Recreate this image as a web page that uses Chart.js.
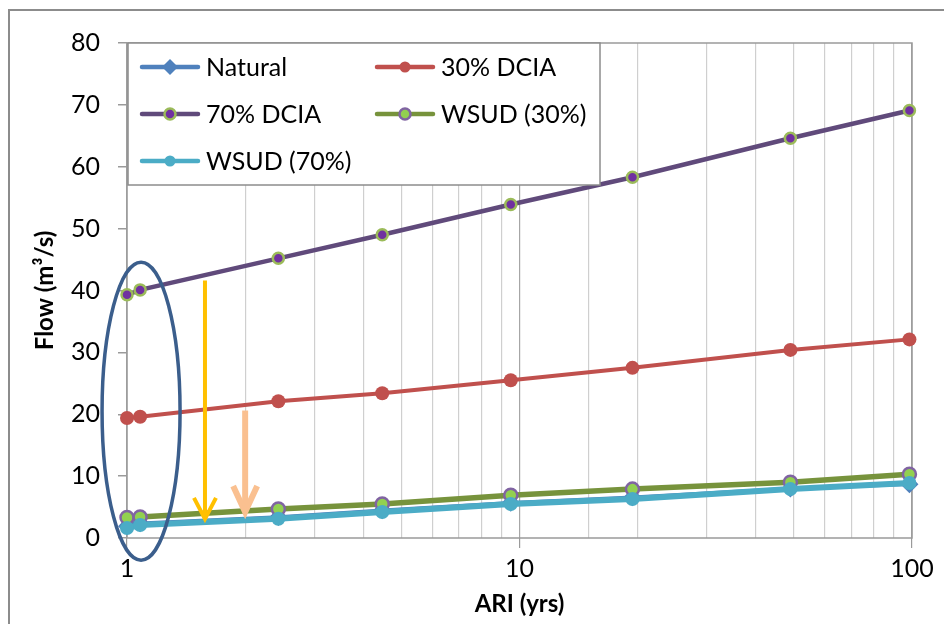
<!DOCTYPE html>
<html>
<head>
<meta charset="utf-8">
<script src="https://cdn.jsdelivr.net/npm/chart.js@4/dist/chart.umd.min.js"></script>
<style>
  body { margin: 0; background: #fff; }
  #wrap { width: 944px; height: 624px; position: relative; }
</style>
</head>
<body>
<div id="wrap"><canvas id="myChart"></canvas></div>
<script>
// ARI (yrs) of each event
const ari = [1.0, 1.08, 2.43, 4.47, 9.5, 19.4, 49, 98.5];

// flows (m3/s)
const natural = [1.9, 2.4, 3.4, 4.5, 5.7, 6.6, 8.0, 8.7];
const dcia30 = [19.4, 19.6, 22.1, 23.4, 25.5, 27.5, 30.4, 32.1];
const dcia70 = [39.3, 40.1, 45.2, 49.0, 53.9, 58.3, 64.6, 69.1];
const wsud30 = [3.3, 3.4, 4.7, 5.5, 6.9, 7.9, 9.0, 10.3];
const wsud70 = [1.6, 2.1, 3.1, 4.2, 5.5, 6.3, 7.9, 8.9];

const xLabels = [1, 10, 100];
const yTicks = { min: 0, max: 80, step: 10 };

// annotations, in data units
const arrows = [
    { x: 1.58, from: 41.6, to: 3.1, color: '#FFC000', width: 4, head: [11, 21] },
    { x: 2.0, from: 20.6, to: 4.2, color: '#FAC090', width: 6, head: [12, 26] }
];
const ring = { x: 1.086, y: 20.5 };

const FONT = 'Lato, "Open Sans", sans-serif';

function pts(ys) {
    return ari.map((x, i) => ({ x: x, y: ys[i] }));
}

const frame = {
    id: 'frame',
    beforeDraw(chart) {
        const ctx = chart.ctx;
        ctx.save();
        ctx.fillStyle = '#fff';
        ctx.fillRect(0, 0, chart.width, chart.height);
        ctx.strokeStyle = '#8c8c8c';
        ctx.lineWidth = 2;
        ctx.strokeRect(9, 10, chart.width + 20, chart.height + 20);
        ctx.restore();
    },
    beforeDatasetsDraw(chart) {
        const a = chart.chartArea, ctx = chart.ctx;
        ctx.save();
        ctx.strokeStyle = '#9a9a9a';
        ctx.lineWidth = 1.5;
        ctx.strokeRect(a.left, a.top, a.right - a.left, a.bottom - a.top);
        ctx.restore();
    }
};

function marker(ctx, ds, x, y, r) {
    ctx.fillStyle = ds.pointBackgroundColor;
    ctx.strokeStyle = ds.pointBorderColor;
    ctx.lineWidth = ds.pointBorderWidth;
    ctx.beginPath();
    if (ds.pointStyle === 'rectRot') {
        ctx.moveTo(x, y - r); ctx.lineTo(x + r, y); ctx.lineTo(x, y + r); ctx.lineTo(x - r, y);
        ctx.closePath();
    } else {
        ctx.arc(x, y, r, 0, Math.PI * 2);
    }
    ctx.fill();
    if (ds.pointBorderWidth) ctx.stroke();
}

const boxLegend = {
    id: 'boxLegend',
    afterDatasetsDraw(chart) {
        const ctx = chart.ctx, a = chart.chartArea;
        const left = a.left + 1, top = a.top, w = 472, h = 142;
        ctx.save();
        ctx.fillStyle = '#fff';
        ctx.fillRect(left, top, w, h);
        ctx.strokeStyle = '#8c8c8c';
        ctx.lineWidth = 1.5;
        ctx.strokeRect(left, top, w, h);
        const cols = [left + 14, left + 249];
        const rows = [top + 24, top + 71, top + 118];
        ctx.font = '25px ' + FONT;
        ctx.textBaseline = 'middle';
        chart.data.datasets.forEach((ds, i) => {
            const x = cols[i % 2], y = rows[Math.floor(i / 2)];
            ctx.strokeStyle = ds.borderColor;
            ctx.lineWidth = 4.5;
            ctx.lineCap = 'round';
            ctx.beginPath();
            ctx.moveTo(x, y); ctx.lineTo(x + 56, y);
            ctx.stroke();
            marker(ctx, ds, x + 28, y, ds.pointStyle === 'rectRot' ? 8 : 5.5);
            ctx.fillStyle = '#000';
            ctx.fillText(ds.label, x + 64, y + 1);
        });
        ctx.restore();
    }
};

const notes = {
    id: 'notes',
    afterDraw(chart) {
        const ctx = chart.ctx, xs = chart.scales.x, ys = chart.scales.y;
        ctx.save();
        ctx.lineCap = 'butt';
        arrows.forEach(ar => {
            const x = xs.getPixelForValue(ar.x);
            const y0 = ys.getPixelForValue(ar.from), y1 = ys.getPixelForValue(ar.to);
            ctx.strokeStyle = ar.color;
            ctx.lineWidth = ar.width;
            ctx.beginPath();
            ctx.moveTo(x, y0); ctx.lineTo(x, y1);
            ctx.stroke();
            ctx.lineJoin = 'miter';
            ctx.beginPath();
            ctx.moveTo(x - ar.head[0], y1 - ar.head[1]); ctx.lineTo(x, y1); ctx.lineTo(x + ar.head[0], y1 - ar.head[1]);
            ctx.stroke();
        });
        ctx.strokeStyle = '#3b5e8c';
        ctx.lineWidth = 3.5;
        ctx.beginPath();
        ctx.ellipse(xs.getPixelForValue(ring.x), ys.getPixelForValue(ring.y), 39, 149, 0, 0, Math.PI * 2);
        ctx.stroke();
        ctx.restore();
    }
};

const ctx = document.getElementById('myChart').getContext('2d');
new Chart(ctx, {
    type: 'line',
    data: {
        datasets: [{
            label: 'Natural',
            data: pts(natural),
            borderColor: '#4F81BD',
            borderWidth: 3.5,
            pointStyle: 'rectRot',
            pointRadius: 9,
            pointBackgroundColor: '#4F81BD',
            pointBorderColor: '#4F81BD',
            pointBorderWidth: 0,
            order: 5
        }, {
            label: '30% DCIA',
            data: pts(dcia30),
            borderColor: '#C0504D',
            borderWidth: 4,
            pointStyle: 'circle',
            pointRadius: 7,
            pointBackgroundColor: '#C0504D',
            pointBorderColor: '#C0504D',
            pointBorderWidth: 0,
            order: 4
        }, {
            label: '70% DCIA',
            data: pts(dcia70),
            borderColor: '#604A7B',
            borderWidth: 4.5,
            pointStyle: 'circle',
            pointRadius: 5.5,
            pointBackgroundColor: '#7030A0',
            pointBorderColor: '#9BBB59',
            pointBorderWidth: 2.5,
            order: 3
        }, {
            label: 'WSUD (30%)',
            data: pts(wsud30),
            borderColor: '#77933C',
            borderWidth: 5.5,
            pointStyle: 'circle',
            pointRadius: 6.5,
            pointBackgroundColor: '#92D050',
            pointBorderColor: '#8064A2',
            pointBorderWidth: 2.5,
            order: 2
        }, {
            label: 'WSUD (70%)',
            data: pts(wsud70),
            borderColor: '#4BACC6',
            borderWidth: 6,
            pointStyle: 'circle',
            pointRadius: 7,
            pointBackgroundColor: '#4BACC6',
            pointBorderColor: '#4BACC6',
            pointBorderWidth: 0,
            order: 1
        }]
    },
    options: {
        responsive: true,
        maintainAspectRatio: false,
        animation: false,
        clip: false,
        layout: { padding: { left: 0, right: 32, top: 43, bottom: 0 } },
        plugins: {
            legend: { display: false },
            tooltip: { enabled: false }
        },
        elements: { line: { tension: 0 } },
        scales: {
            x: {
                type: 'logarithmic',
                min: 1,
                max: 100,
                afterFit: s => { s.height = 86; },
                border: { display: false },
                grid: {
                    color: c => xLabels.includes(Math.round(c.tick.value)) ? '#a6a6a6' : '#cfcfcf',
                    tickColor: c => xLabels.includes(Math.round(c.tick.value)) ? '#9a9a9a' : 'rgba(0,0,0,0)',
                    tickLength: 10,
                    lineWidth: 1.2
                },
                ticks: {
                    autoSkip: false,
                    maxRotation: 0,
                    color: '#000',
                    padding: 6,
                    font: { family: FONT, size: 25 },
                    callback: v => xLabels.includes(Math.round(v)) && Math.abs(v - Math.round(v)) < 1e-6 ? String(Math.round(v)) : ''
                },
                title: {
                    display: true,
                    text: 'ARI (yrs)',
                    color: '#000',
                    font: { family: FONT, size: 24, weight: 'bold' },
                    padding: { top: 0, bottom: 5 }
                }
            },
            y: {
                min: yTicks.min,
                max: yTicks.max,
                afterFit: s => { s.width = 127; },
                border: { display: false },
                grid: {
                    drawOnChartArea: false,
                    tickLength: 9,
                    tickColor: '#9a9a9a',
                    lineWidth: 1.5
                },
                ticks: {
                    stepSize: yTicks.step,
                    color: '#000',
                    padding: 18,
                    font: { family: FONT, size: 25 }
                },
                title: {
                    display: true,
                    text: 'Flow (m³/s)',
                    color: '#000',
                    font: { family: FONT, size: 24, weight: 'bold' },
                    padding: { top: 31, bottom: 0 }
                }
            }
        }
    },
    plugins: [frame, boxLegend, notes]
});
</script>
</body>
</html>
